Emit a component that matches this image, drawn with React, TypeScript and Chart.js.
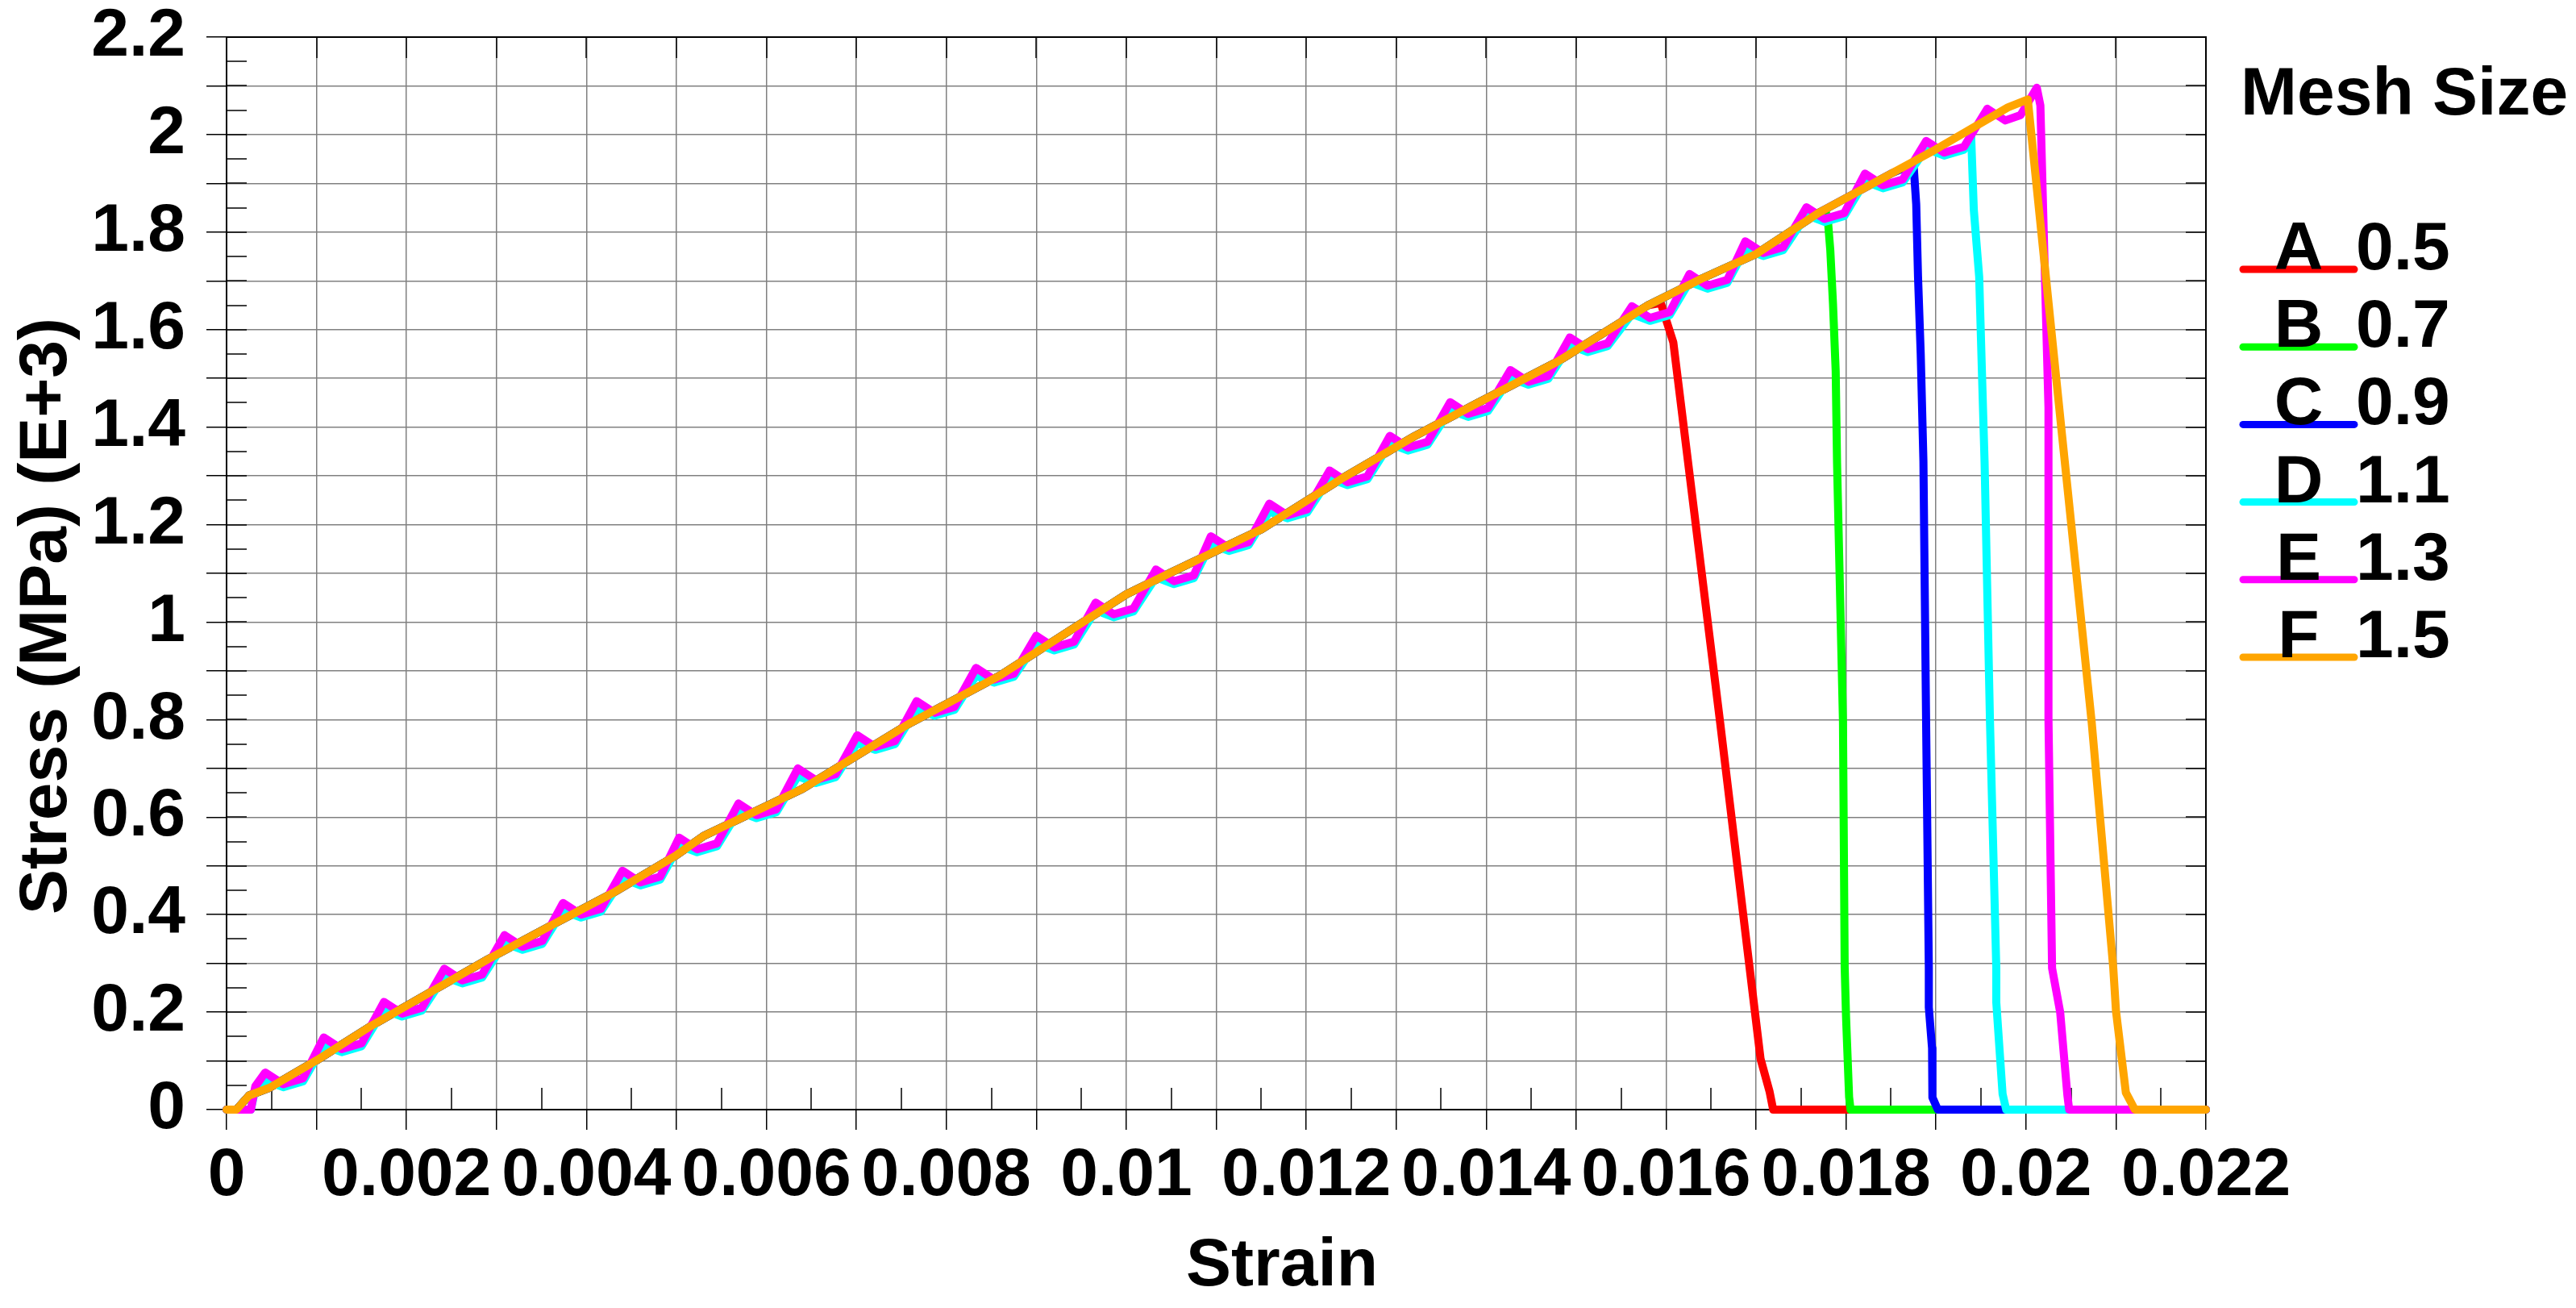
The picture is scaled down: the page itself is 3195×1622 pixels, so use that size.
import React, { useEffect, useRef } from 'react';
import { Chart, registerables } from 'chart.js';

Chart.register(...registerables);

// ---------------- DATA ----------------
// Common smooth rising path (curve F, also followed by A, B, C until failure)
const strainBase = [0, 0.00011, 0.00025, 0.00048, 0.001, 0.0016, 0.002, 0.0029, 0.0037, 0.0043, 0.005, 0.0053, 0.0064, 0.0076, 0.0086, 0.01, 0.0105, 0.0115, 0.0124, 0.0132, 0.0139, 0.0148, 0.0158, 0.0164, 0.017, 0.0177, 0.0185, 0.019, 0.0198, 0.02002];
const stressBase = [0, 0, 0.029, 0.045, 0.101, 0.171, 0.213, 0.308, 0.387, 0.445, 0.522, 0.561, 0.658, 0.793, 0.891, 1.057, 1.102, 1.19, 1.295, 1.381, 1.449, 1.535, 1.65, 1.705, 1.755, 1.84, 1.92, 1.97, 2.056, 2.072];

// Oscillating path of curves D and E (peak, dip, foot per wiggle)
const strainStart = [0, 0.00027, 0.00032];
const stressStartE = [0, 0, 0.048];
const stressStartD = [0, 0, 0.042];
const strainOsc = [
  0.00043, 0.00063, 0.00085, 0.00108, 0.00128, 0.0015, 0.00175, 0.00195, 0.00217,
  0.00242, 0.00262, 0.00284, 0.00309, 0.00329, 0.00351, 0.00374, 0.00394, 0.00416,
  0.0044, 0.0046, 0.00482, 0.00503, 0.00523, 0.00545, 0.00569, 0.00589, 0.00611,
  0.00635, 0.00655, 0.00677, 0.00701, 0.00721, 0.00743, 0.00767, 0.00787, 0.00809,
  0.00833, 0.00853, 0.00875, 0.009, 0.0092, 0.00942, 0.00966, 0.00986, 0.01008,
  0.01033, 0.01053, 0.01075, 0.01094, 0.01114, 0.01136, 0.01159, 0.01179, 0.01201,
  0.01226, 0.01246, 0.01268, 0.01293, 0.01313, 0.01335, 0.0136, 0.0138, 0.01402,
  0.01427, 0.01447, 0.01469, 0.01493, 0.01513, 0.01535, 0.01562, 0.01582, 0.01604,
  0.01626, 0.01646, 0.01668, 0.01688, 0.01708, 0.0173, 0.01756, 0.01776, 0.01798,
  0.01821, 0.01841, 0.01863, 0.01889, 0.01909, 0.01931, 0.01957, 0.01977, 0.01994,
];
const stressOscE = [
  0.076, 0.052, 0.064, 0.148, 0.124, 0.136, 0.221, 0.197, 0.209,
  0.289, 0.265, 0.277, 0.358, 0.334, 0.346, 0.424, 0.4, 0.412,
  0.49, 0.466, 0.478, 0.558, 0.534, 0.546, 0.628, 0.604, 0.616,
  0.7, 0.676, 0.688, 0.768, 0.744, 0.756, 0.838, 0.814, 0.826,
  0.906, 0.882, 0.894, 0.972, 0.948, 0.96, 1.04, 1.016, 1.028,
  1.108, 1.084, 1.096, 1.176, 1.152, 1.164, 1.243, 1.219, 1.231,
  1.311, 1.287, 1.299, 1.382, 1.358, 1.37, 1.451, 1.427, 1.439,
  1.517, 1.493, 1.505, 1.584, 1.56, 1.572, 1.648, 1.624, 1.636,
  1.714, 1.69, 1.702, 1.781, 1.757, 1.769, 1.851, 1.827, 1.839,
  1.92, 1.896, 1.908, 1.987, 1.963, 1.975, 2.053, 2.029, 2.04,
];
const stressOscD = [
  0.06, 0.046, 0.058, 0.132, 0.118, 0.13, 0.205, 0.191, 0.203,
  0.273, 0.259, 0.271, 0.342, 0.328, 0.34, 0.408, 0.394, 0.406,
  0.474, 0.46, 0.472, 0.542, 0.528, 0.54, 0.612, 0.598, 0.61,
  0.684, 0.67, 0.682, 0.752, 0.738, 0.75, 0.822, 0.808, 0.82,
  0.89, 0.876, 0.888, 0.956, 0.942, 0.954, 1.024, 1.01, 1.022,
  1.092, 1.078, 1.09, 1.16, 1.146, 1.158, 1.227, 1.213, 1.225,
  1.295, 1.281, 1.293, 1.366, 1.352, 1.364, 1.435, 1.421, 1.433,
  1.501, 1.487, 1.499, 1.568, 1.554, 1.566, 1.632, 1.618, 1.63,
  1.698, 1.684, 1.696, 1.765, 1.751, 1.763, 1.835, 1.821, 1.833,
  1.904, 1.89, 1.902, 1.971, 1.957, 1.969,
];

// Failure tails
const strainTailA = [0.01594, 0.01608, 0.0166, 0.01705, 0.01715, 0.01719, 0.022];
const stressTailA = [1.655, 1.574, 0.795, 0.104, 0.037, 0, 0];
const strainTailB = [0.01777, 0.0178, 0.017825, 0.017855, 0.017885, 0.0179, 0.017966, 0.017985, 0.018, 0.018034, 0.01805, 0.022];
const stressTailB = [1.846, 1.82, 1.763, 1.653, 1.515, 1.327, 0.795, 0.291, 0.191, 0.026, 0, 0];
const strainTailC = [0.01875, 0.01878, 0.0188, 0.01883, 0.01886, 0.01889, 0.01892, 0.01892, 0.018956, 0.01896, 0.01902, 0.022];
const stressTailC = [1.94, 1.857, 1.709, 1.55, 1.33, 0.795, 0.291, 0.21, 0.126, 0.025, 0, 0];
const strainTailD = [0.01939, 0.01942, 0.01948, 0.01951, 0.01954, 0.0196, 0.01967, 0.01967, 0.01974, 0.01978, 0.022];
const stressTailD = [2.0, 1.846, 1.708, 1.515, 1.327, 0.795, 0.291, 0.22, 0.032, 0, 0];
const strainTailE = [0.02012, 0.02016, 0.02019, 0.02025, 0.02025, 0.02029, 0.02038, 0.02046, 0.02048, 0.022];
const stressTailE = [2.096, 2.06, 1.85, 1.44, 0.8, 0.29, 0.2, 0.03, 0, 0];
const strainTailF = [0.0204, 0.02073, 0.02097, 0.021, 0.02111, 0.02121, 0.022];
const stressTailF = [1.385, 0.795, 0.291, 0.203, 0.035, 0, 0];

const seriesLetters = ['A', 'B', 'C', 'D', 'E', 'F'];
const meshSizes = ['0.5', '0.7', '0.9', '1.1', '1.3', '1.5'];
const seriesColors = ['#ff0000', '#00ff00', '#0000ff', '#00ffff', '#ff00ff', '#ffa500'];

const xTickLabels = ['0', '0.002', '0.004', '0.006', '0.008', '0.01', '0.012', '0.014', '0.016', '0.018', '0.02', '0.022'];
const yTickLabels = ['0', '0.2', '0.4', '0.6', '0.8', '1', '1.2', '1.4', '1.6', '1.8', '2', '2.2'];

const xTitle = 'Strain';
const yTitle = 'Stress (MPa) (E+3)';
const legendTitle = 'Mesh Size';

// ---------------- HELPERS ----------------
const FONT = '"Liberation Sans", Arial, Helvetica, sans-serif';
const W = 3195;
const H = 1622;

type Pt = { x: number; y: number };
const pts = (xs: number[], ys: number[]): Pt[] => xs.map((x, i) => ({ x, y: ys[i] }));
const baseUntil = (limit: number): Pt[] => pts(strainBase, stressBase).filter((p) => p.x < limit);

const seriesA = [...baseUntil(strainTailA[0]), ...pts(strainTailA, stressTailA)];
const seriesB = [...baseUntil(strainTailB[0]), ...pts(strainTailB, stressTailB)];
const seriesC = [...baseUntil(strainTailC[0]), ...pts(strainTailC, stressTailC)];
const seriesD = [
  ...pts(strainStart, stressStartD),
  ...pts(strainOsc.slice(0, stressOscD.length), stressOscD),
  ...pts(strainTailD, stressTailD),
];
const seriesE = [
  ...pts(strainStart, stressStartE),
  ...pts(strainOsc, stressOscE),
  ...pts(strainTailE, stressTailE),
];
const seriesF = [...pts(strainBase, stressBase), ...pts(strainTailF, stressTailF)];
const allSeries = [seriesA, seriesB, seriesC, seriesD, seriesE, seriesF];

const framePlugin = {
  id: 'frameTicks',
  beforeDatasetsDraw(chart: any) {
    const { ctx, chartArea: a, scales } = chart;
    const xs = scales.x;
    const ys = scales.y;
    const xt = xs.ticks;
    const yt = ys.ticks;
    ctx.save();
    ctx.strokeStyle = '#000';
    ctx.lineWidth = 1.5;
    ctx.beginPath();
    xt.forEach((t: any) => {
      const px = Math.round(xs.getPixelForValue(t.value));
      ctx.moveTo(px, a.top);
      ctx.lineTo(px, a.top + 26);
    });
    for (let i = 0; i < xt.length - 1; i++) {
      const px = Math.round(xs.getPixelForValue((xt[i].value + xt[i + 1].value) / 2));
      ctx.moveTo(px, a.bottom);
      ctx.lineTo(px, a.bottom - 27);
    }
    yt.forEach((t: any) => {
      const py = Math.round(ys.getPixelForValue(t.value));
      ctx.moveTo(a.left, py);
      ctx.lineTo(a.left + 25, py);
      ctx.moveTo(a.right, py);
      ctx.lineTo(a.right - 25, py);
    });
    for (let i = 0; i < yt.length - 1; i++) {
      const py = Math.round(ys.getPixelForValue((yt[i].value + yt[i + 1].value) / 2));
      ctx.moveTo(a.left, py);
      ctx.lineTo(a.left + 25, py);
    }
    ctx.stroke();
    ctx.lineWidth = 2;
    ctx.strokeRect(a.left, a.top, a.right - a.left, a.bottom - a.top);
    ctx.restore();
  },
};

const textPlugin = {
  id: 'titlesLegend',
  afterDraw(chart: any) {
    const { ctx } = chart;
    ctx.save();
    ctx.fillStyle = '#000';
    ctx.font = `bold 84px ${FONT}`;
    // x title
    ctx.textAlign = 'center';
    ctx.textBaseline = 'alphabetic';
    ctx.fillText(xTitle, 1590, 1594);
    // y title
    ctx.save();
    ctx.translate(82, 764);
    ctx.rotate(-Math.PI / 2);
    ctx.fillText(yTitle, 0, 0);
    ctx.restore();
    // legend
    ctx.textAlign = 'left';
    ctx.fillText(legendTitle, 2779, 142);
    seriesLetters.forEach((letter, i) => {
      const rowY = 334 + i * 96.2;
      ctx.strokeStyle = seriesColors[i];
      ctx.lineWidth = 9;
      ctx.lineCap = 'round';
      ctx.beginPath();
      ctx.moveTo(2782, rowY);
      ctx.lineTo(2920, rowY);
      ctx.stroke();
      ctx.fillStyle = '#000';
      ctx.textAlign = 'center';
      ctx.fillText(letter, 2851, rowY);
      ctx.textAlign = 'left';
      ctx.fillText(meshSizes[i], 2922, rowY);
    });
    ctx.restore();
  },
};

export default function App() {
  const canvasRef = useRef<HTMLCanvasElement | null>(null);

  useEffect(() => {
    const canvas = canvasRef.current;
    if (!canvas) return;
    const tickFont = { family: FONT, size: 84, weight: 'bold' as const, lineHeight: 1 };
    const chart = new Chart(canvas, {
      type: 'line',
      data: {
        datasets: allSeries.map((data, i) => ({
          label: `${seriesLetters[i]} ${meshSizes[i]}`,
          data,
          borderColor: seriesColors[i],
          backgroundColor: seriesColors[i],
          borderWidth: 10,
          pointRadius: 0,
          pointHoverRadius: 0,
          tension: 0,
          fill: false,
          borderJoinStyle: 'round' as const,
          borderCapStyle: 'round' as const,
          clip: false as any,
          order: allSeries.length - 1 - i,
        })),
      },
      options: {
        animation: false,
        responsive: false,
        devicePixelRatio: 1,
        events: [],
        layout: { padding: { left: 0, right: W - 2736, top: 46, bottom: 0 } },
        plugins: {
          legend: { display: false },
          tooltip: { enabled: false },
          title: { display: false },
        },
        scales: {
          x: {
            type: 'linear',
            min: 0,
            max: 0.022,
            afterFit: (scale: any) => {
              scale.height = H - 1376;
              scale.paddingLeft = 0;
              scale.paddingRight = 0;
            },
            ticks: {
              stepSize: 0.001,
              autoSkip: false,
              maxRotation: 0,
              minRotation: 0,
              padding: 16,
              color: '#000',
              font: tickFont,
              callback: (_v: any, i: number) => (i % 2 === 0 ? xTickLabels[i / 2] : ''),
            },
            grid: {
              color: '#808080',
              lineWidth: 1.5,
              tickLength: 25,
              tickColor: '#000',
              tickWidth: 1.5,
            },
            border: { color: '#000', width: 2 },
          },
          y: {
            type: 'linear',
            min: 0,
            max: 2.2,
            afterFit: (scale: any) => {
              scale.width = 281;
              scale.paddingTop = 0;
              scale.paddingBottom = 0;
            },
            ticks: {
              stepSize: 0.1,
              autoSkip: false,
              padding: 26,
              color: '#000',
              font: tickFont,
              callback: (_v: any, i: number) => (i % 2 === 0 ? yTickLabels[i / 2] : ''),
            },
            grid: {
              color: '#808080',
              lineWidth: 1.5,
              tickLength: 25,
              tickColor: '#000',
              tickWidth: 1.5,
            },
            border: { color: '#000', width: 2 },
          },
        },
      },
      plugins: [framePlugin, textPlugin],
    } as any);
    return () => chart.destroy();
  }, []);

  return (
    <div style={{ position: 'fixed', left: 0, top: 0, width: W, height: H, background: '#fff' }}>
      <canvas ref={canvasRef} width={W} height={H} style={{ width: W, height: H, display: 'block' }} />
    </div>
  );
}
